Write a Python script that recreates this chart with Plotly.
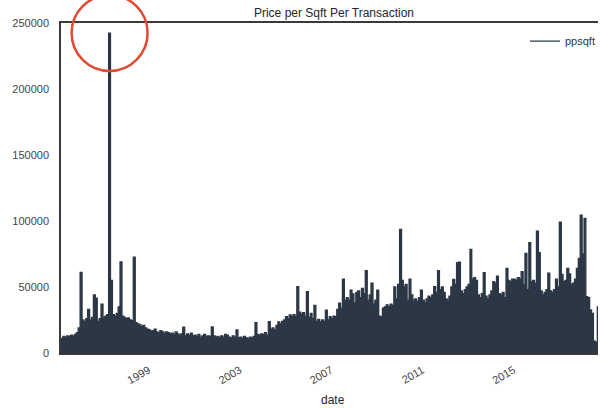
import pandas as pd
import plotly.graph_objects as go

# ---------------- data ----------------
start_month = "1995-03-01"          # first transaction month shown
x_range_end = "2018-09-12"          # right edge of the visible window

ppsqft = [
    # 1995 (Mar-Dec)
    11000, 12500, 12000, 13000, 12500, 13500, 12800, 14000, 15500, 19000,
    # 1996
    61000, 25000, 24000, 26000, 33000, 25000, 27000, 44000, 41500, 24000, 26000, 37000,
    # 1997
    27000, 28000, 29000, 242400, 55000, 29000, 28000, 30000, 35000, 69000, 28000, 27000,
    # 1998
    26000, 26500, 25000, 24500, 72700, 23000, 22000, 21500, 20000, 21000, 19000, 18000,
    # 1999
    17500, 16500, 17000, 18000, 16000, 15500, 17000, 16000, 15000, 16000, 15500, 14500,
    # 2000
    15000, 14000, 16000, 14500, 13500, 14500, 19500, 13000, 14500, 13500, 15000, 13000,
    # 2001
    13500, 12500, 14000, 12000, 13000, 14000, 12500, 13000, 12500, 19700, 13000, 12000,
    # 2002
    12500, 11500, 13000, 12000, 14000, 13500, 12000, 11500, 13000, 12000, 17500, 11500,
    # 2003
    12000, 11000, 12500, 11500, 11000, 12000, 11500, 12500, 23000, 14000, 13500, 14500,
    # 2004
    14000, 15500, 13500, 23700, 18000, 19000, 17500, 21000, 23500, 22000, 24000, 25000,
    # 2005
    27500, 26000, 28800, 27500, 29000, 28000, 50200, 31000, 29500, 30500, 28000, 46500,
    # 2006
    27000, 30000, 26000, 36000, 24000, 25500, 23500, 25000, 24000, 32500, 25000, 27500,
    # 2007
    26000, 28000, 27500, 33000, 37800, 34000, 56000, 40000, 42000, 40000, 47700, 44700,
    # 2008
    38000, 46000, 47000, 42000, 49000, 45000, 62400, 40000, 44000, 53000, 37000, 40000,
    # 2009
    47700, 28000, 27500, 34000, 35000, 36500, 35000, 37000, 36000, 50000, 41000, 52000,
    # 2010
    93700, 55000, 50000, 52000, 40000, 56000, 44000, 40000, 41000, 39000, 42000, 47700,
    # 2011
    40000, 38000, 41000, 43000, 42000, 44000, 50200, 46000, 62400, 48000, 50000, 46000,
    # 2012
    41000, 40000, 43000, 50000, 55800, 52000, 68400, 68900, 47000, 45000, 48000, 50000,
    # 2013
    52000, 78500, 56000, 57000, 55000, 44000, 42000, 45000, 60800, 43000, 41000, 44000,
    # 2014
    47000, 54000, 53000, 58300, 45000, 44000, 46000, 42000, 64100, 55000, 54000, 56000,
    # 2015
    56000, 55000, 57000, 56000, 61600, 52000, 75500, 48000, 83600, 54000, 55000, 53000,
    # 2016
    92400, 76000, 47000, 44000, 46000, 48000, 60400, 47000, 46000, 48000, 56000, 50000,
    # 2017
    99200, 59500, 54000, 55000, 64100, 60000, 52000, 53000, 56000, 64000, 71700, 104500,
    # 2018
    75000, 102000, 42700, 42000, 32600, 30000, 9000, 8000, 35000, 30000, 28000, 32000,
]

tick_years = [1999, 2003, 2007, 2011, 2015]
y_ticks = [0, 50000, 100000, 150000, 200000, 250000]

# ---------------- styling ----------------
LINE = "#2b3745"
SPINE = "#3a3a3a"
TEXT = "#333333"
FONT = "Liberation Sans, Arial, sans-serif"

dates = pd.date_range(start_month, periods=len(ppsqft), freq="MS")

fig = go.Figure()
# dense transaction line rendered as its silhouette
fig.add_trace(go.Scatter(
    x=dates, y=ppsqft, mode="lines", line=dict(color=LINE, width=0, shape="hv"),
    fill="tozeroy", fillcolor=LINE, showlegend=False, hoverinfo="skip",
))
fig.add_trace(go.Scatter(
    x=dates, y=ppsqft, mode="lines", name="ppsqft",
    line=dict(color=LINE, width=1.3, shape="hv"),
))

peak_idx = max(range(len(ppsqft)), key=lambda i: ppsqft[i])
peak_date = dates[peak_idx]
peak_frac = ppsqft[peak_idx] / y_ticks[-1]

fig.add_shape(
    type="circle", xref="x", yref="paper",
    xsizemode="pixel", ysizemode="pixel",
    xanchor=peak_date, yanchor=peak_frac,
    x0=-37, x1=39, y0=-38, y1=38,
    line=dict(color="#e04a32", width=2.5), layer="above",
)

fig.update_layout(
    width=600, height=408,
    margin=dict(l=61, r=0, t=23, b=55),
    paper_bgcolor="white", plot_bgcolor="white",
    font=dict(family=FONT, size=11, color=TEXT),
    title=dict(
        text="Price per Sqft Per Transaction",
        x=334 / 600, xref="container", xanchor="center",
        y=1 - 12.5 / 408, yref="container", yanchor="middle",
        font=dict(size=12, color="#262626"),
    ),
    legend=dict(
        x=0.864, y=0.945, xanchor="left", yanchor="middle",
        bgcolor="rgba(0,0,0,0)", font=dict(size=11, color=TEXT),
    ),
    xaxis=dict(
        type="date", range=[start_month, x_range_end],
        tickvals=[f"{y}-01-01" for y in tick_years],
        ticktext=[str(y) for y in tick_years],
        tickangle=-30, showgrid=False, zeroline=False,
        showline=True, linecolor=SPINE, linewidth=1.5, mirror=True,
        ticks="", ticklabelstandoff=5, tickfont=dict(size=11, color="#444444"),
    ),
    yaxis=dict(
        range=[0, y_ticks[-1]], tickvals=y_ticks, tickformat="d",
        showgrid=False, zeroline=False,
        showline=True, linecolor=SPINE, linewidth=1.5, mirror=False,
        ticks="", ticklabelstandoff=8, tickfont=dict(size=11, color="#444444"),
    ),
    annotations=[dict(
        text="date", xref="paper", yref="paper",
        x=(334 - 61) / 539, y=-47 / 330, xanchor="center", yanchor="middle",
        showarrow=False, font=dict(size=12, color="#262626"),
    )],
)

fig.write_html(
    "out.html",
    config={"displayModeBar": False},
    post_script="document.body.style.margin='0';",
)
